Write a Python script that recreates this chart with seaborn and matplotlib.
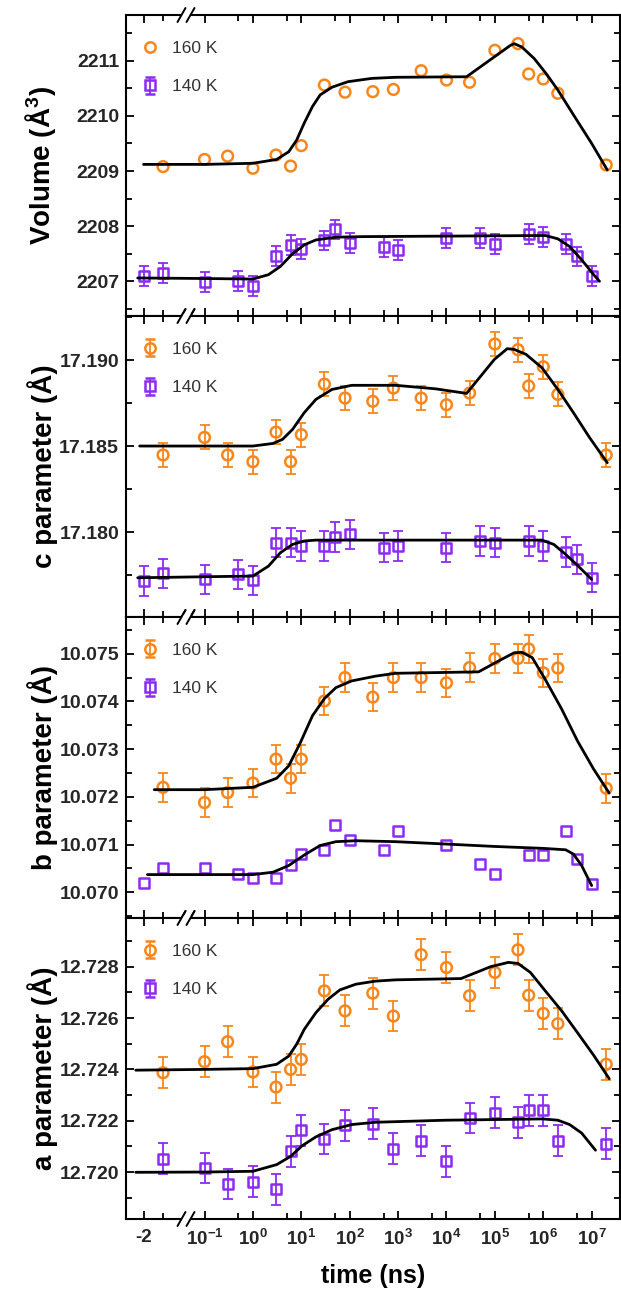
import numpy as np
import matplotlib
matplotlib.use("Agg")
import matplotlib.pyplot as plt
import seaborn as sns
from matplotlib.ticker import FixedLocator, FixedFormatter, MultipleLocator, FormatStrFormatter, NullFormatter

# ---------------- data ----------------
t160 = [-1, 0.1, 0.3, 1, 3, 6, 10, 30, 80, 300, 800, 3000, 1e4, 3e4, 1e5, 3e5, 5e5, 1e6, 2e6, 2e7]
t140 = [-2, -1, 0.1, 0.5, 1, 3, 6, 10, 30, 50, 100, 500, 1000, 1e4, 5e4, 1e5, 5e5, 1e6, 3e6, 5e6, 1e7]

vol160 = [2209.08, 2209.21, 2209.27, 2209.05, 2209.29, 2209.09, 2209.46, 2210.56, 2210.43, 2210.44,
          2210.48, 2210.82, 2210.65, 2210.61, 2211.19, 2211.31, 2210.76, 2210.67, 2210.41, 2209.11]
vol140 = [2207.09, 2207.15, 2206.98, 2207.01, 2206.91, 2207.46, 2207.66, 2207.59, 2207.74, 2207.94,
          2207.69, 2207.62, 2207.57, 2207.78, 2207.78, 2207.68, 2207.86, 2207.81, 2207.68, 2207.45, 2207.10]
c160 = [17.18448, 17.18550, 17.18448, 17.18409, 17.18581, 17.18409, 17.18566, 17.18860, 17.18779, 17.18760,
        17.18837, 17.18779, 17.18740, 17.18808, 17.19093, 17.19060, 17.18849, 17.18961, 17.18800, 17.18448]
c140 = [17.17715, 17.17760, 17.17725, 17.17754, 17.17719, 17.17938, 17.17938, 17.17919, 17.17919, 17.17971,
        17.17986, 17.17909, 17.17919, 17.17909, 17.17948, 17.17938, 17.17948, 17.17919, 17.17884, 17.17841, 17.17734]
b160 = [10.07220, 10.07188, 10.07209, 10.07229, 10.07279, 10.07239, 10.07279, 10.07401, 10.07450, 10.07409,
        10.07450, 10.07450, 10.07439, 10.07471, 10.07490, 10.07490, 10.07510, 10.07460, 10.07470, 10.07218]
b140 = [10.07020, 10.07050, 10.07050, 10.07039, 10.07030, 10.07030, 10.07058, 10.07080, 10.07089, 10.07140,
        10.07110, 10.07089, 10.07129, 10.07099, 10.07059, 10.07039, 10.07078, 10.07078, 10.07129, 10.07070, 10.07018]
a160 = [12.72387, 12.72430, 12.72508, 12.72390, 12.72331, 12.72400, 12.72439, 12.72706, 12.72628, 12.72697,
        12.72608, 12.72847, 12.72797, 12.72687, 12.72778, 12.72866, 12.72689, 12.72618, 12.72578, 12.72420]
a140 = [12.72052, 12.72016, 12.71953, 12.71963, 12.71933, 12.72081, 12.72162, 12.72129, 12.72182, 12.72189,
        12.72091, 12.72122, 12.72042, 12.72211, 12.72231, 12.72194, 12.72240, 12.72240, 12.72122, 12.72111]

vol160_err = None
vol140_err = 0.18
c160_err = 0.0007
c140_err = 0.00085
b160_err = 0.0003
b140_err = None
a160_err = 0.0006
a140_err = 0.0006

# fitted guide curves
vol160_fit_t = [-2, 0.1, 1, 3.1, 5.5, 8, 11.5, 17, 24.5, 43, 92, 285, 890, 2.6e4, 2.1e5, 2.5e5, 3.6e5, 6.5e5,
                1.14e6, 2e6, 4.2e6, 1e7, 2.1e7]
vol160_fit_v = [2209.12, 2209.12, 2209.14, 2209.21, 2209.35, 2209.56, 2209.87, 2210.17, 2210.38, 2210.52, 2210.62,
                2210.68, 2210.70, 2210.71, 2211.28, 2211.31, 2211.25, 2211.04, 2210.77, 2210.47, 2210.02, 2209.50, 2209.02]
vol140_fit_t = [-2.3, 0.1, 1, 2.1, 3.7, 6.6, 11.5, 20, 52, 195, 1.1e6, 2e6, 3.5e6, 6.2e6, 1.1e7, 1.45e7]
vol140_fit_v = [2207.06, 2207.05, 2207.04, 2207.12, 2207.27, 2207.50, 2207.66, 2207.75, 2207.80, 2207.81,
                2207.83, 2207.77, 2207.63, 2207.39, 2207.12, 2207.00]
c160_fit_t = [-2.2, 0.1, 1, 2.6, 4.1, 6.6, 11.5, 20, 43, 110, 890, 5800, 2.6e4, 9.8e4, 1.8e5, 2.5e5, 4.4e5,
              9.4e5, 2e6, 4.2e6, 9.1e6, 2.1e7]
c160_fit_v = [17.18500, 17.18500, 17.18500, 17.18515, 17.18539, 17.18597, 17.18694, 17.18771, 17.18829, 17.18853,
              17.18853, 17.18833, 17.18806, 17.19004, 17.19066, 17.19062, 17.19033, 17.18955, 17.18829, 17.18694,
              17.18548, 17.18403]
c140_fit_t = [-2.3, 0.1, 1, 2.1, 3.7, 6.6, 11.5, 20, 9.4e5, 1.65e6, 2.9e6, 5.1e6, 1e7]
c140_fit_v = [17.17734, 17.17740, 17.17744, 17.17802, 17.17880, 17.17928, 17.17948, 17.17953, 17.17953, 17.17928,
              17.17870, 17.17806, 17.17725]
b160_fit_t = [-1.45, 0.1, 1, 3.1, 5.5, 9.6, 17, 30, 52, 110, 340, 890, 4.6e4, 1.2e5, 2.5e5, 3.6e5, 5.9e5,
              1.1e6, 2.4e6, 5.1e6, 1.1e7, 2.3e7]
b160_fit_v = [10.07215, 10.07215, 10.07220, 10.07239, 10.07265, 10.07314, 10.07370, 10.07406, 10.07429, 10.07443,
              10.07453, 10.07459, 10.07462, 10.07485, 10.07502, 10.07503, 10.07492, 10.07446, 10.07384, 10.07317,
              10.07258, 10.07208]
b140_fit_t = [-1.8, 0.1, 1, 2.6, 5.5, 11.5, 24.5, 52, 134, 890, 9.8e3, 9.8e4, 9.8e5, 2.9e6, 4.2e6, 6.2e6, 1e7]
b140_fit_v = [10.07037, 10.07037, 10.07037, 10.07042, 10.07056, 10.07078, 10.07098, 10.07106, 10.07108, 10.07106,
              10.07101, 10.07096, 10.07092, 10.07089, 10.07080, 10.07056, 10.07014]
a160_fit_t = [-2.4, 0.1, 1, 3.1, 5.5, 8, 11.5, 20, 36, 63, 134, 340, 890, 2e4, 8.1e4, 1.9e5, 3e5, 5.4e5,
              1.1e6, 2.4e6, 5.1e6, 1.1e7, 2.3e7]
a160_fit_v = [12.72397, 12.72400, 12.72403, 12.72420, 12.72452, 12.72498, 12.72556, 12.72621, 12.72674, 12.72710,
              12.72732, 12.72744, 12.72749, 12.72754, 12.72800, 12.72817, 12.72813, 12.72778, 12.72706, 12.72628,
              12.72543, 12.72455, 12.72364]
a140_fit_t = [-2.4, 0.1, 1, 3.1, 6, 10.5, 20, 43, 110, 340, 9.8e3, 9.8e5, 2e6, 3.5e6, 6.2e6, 1.2e7]
a140_fit_v = [12.71999, 12.72000, 12.72003, 12.72029, 12.72061, 12.72103, 12.72137, 12.72165, 12.72185, 12.72194,
              12.72202, 12.72207, 12.72202, 12.72185, 12.72152, 12.72085]

series_labels = ["160 K", "140 K"]
ylabels = ["Volume (Å$^{3}$)", "c parameter (Å)", "b parameter (Å)", "a parameter (Å)"]
x_major = [-2, 0.1, 1, 10, 1e2, 1e3, 1e4, 1e5, 1e6, 1e7]
x_major_labels = ["-2", "$10^{-1}$", "$10^{0}$", "$10^{1}$", "$10^{2}$", "$10^{3}$",
                  "$10^{4}$", "$10^{5}$", "$10^{6}$", "$10^{7}$"]
x_minor = [-1, 0.5, 5, 50, 500, 5e3, 5e4, 5e5, 5e6]

# ---------------- style ----------------
sns.set_theme(style="ticks")
plt.rcParams["font.family"] = ["Liberation Sans", "DejaVu Sans"]
plt.rcParams["mathtext.fontset"] = "custom"
plt.rcParams["mathtext.rm"] = "Liberation Sans:bold"
plt.rcParams["mathtext.it"] = "Liberation Sans:bold"
plt.rcParams["mathtext.bf"] = "Liberation Sans:bold"
plt.rcParams["mathtext.default"] = "rm"

ORANGE = "#F7871C"
PURPLE = "#8C2BF2"

# broken time axis: linear for t<=0, log for t>=0.1
A0, S0 = -0.454, 0.403


def fwd(t):
    t = np.asarray(t, dtype=float)
    lg = np.log10(np.maximum(t, 0.1)) + 1.0
    neg = A0 + S0 * t
    mid = A0 + (-A0 / 0.1) * t
    return np.where(t >= 0.1, lg, np.where(t <= 0, neg, mid))


def inv(p):
    p = np.asarray(p, dtype=float)
    lg = 10.0 ** (np.minimum(p, 20) - 1.0)
    neg = (p - A0) / S0
    mid = (p - A0) / (-A0 / 0.1)
    return np.where(p >= 0, lg, np.where(p <= A0, neg, mid))


panels = [
    dict(d160=vol160, e160=vol160_err, d140=vol140, e140=vol140_err, t140=t140,
         f160=(vol160_fit_t, vol160_fit_v), f140=(vol140_fit_t, vol140_fit_v),
         ylim=(2206.37, 2211.83), step=1.0, fmt="%d"),
    dict(d160=c160, e160=c160_err, d140=c140, e140=c140_err, t140=t140,
         f160=(c160_fit_t, c160_fit_v), f140=(c140_fit_t, c140_fit_v),
         ylim=(17.17506, 17.19256), step=0.005, fmt="%.3f"),
    dict(d160=b160, e160=b160_err, d140=b140, e140=b140_err, t140=t140,
         f160=(b160_fit_t, b160_fit_v), f140=(b140_fit_t, b140_fit_v),
         ylim=(10.06946, 10.07577), step=0.001, fmt="%.3f", legend_err140=True),
    dict(d160=a160, e160=a160_err, d140=a140, e140=a140_err, t140=t160,
         f160=(a160_fit_t, a160_fit_v), f140=(a140_fit_t, a140_fit_v),
         ylim=(12.71817, 12.72990), step=0.002, fmt="%.3f"),
]

W, H = 621, 1292
fig = plt.figure(figsize=(W / 100, H / 100), dpi=100)
axes = fig.subplots(4, 1, sharex=True)
L, R, T, B = 126, 620, 15, 1219
fig.subplots_adjust(left=L / W, right=R / W, top=1 - T / H, bottom=1 - B / H, hspace=0)
axw = R - L
axh = (B - T) / 4.0

for i, (ax, p) in enumerate(zip(axes, panels)):
    ax.set_xscale("function", functions=(fwd, inv))
    ax.set_xlim(-2.9, 3.85e7)
    ax.set_ylim(*p["ylim"])

    ek = dict(fmt="none", elinewidth=1.3, capsize=3.5, capthick=1.3, zorder=2)
    if p["e160"] is not None:
        ax.errorbar(t160, p["d160"], yerr=p["e160"], ecolor=ORANGE, **ek)
    if p["e140"] is not None:
        ax.errorbar(p["t140"], p["d140"], yerr=p["e140"], ecolor=PURPLE, **ek)

    sns.scatterplot(x=t160, y=p["d160"], ax=ax, marker="o", s=60, facecolors="none",
                    edgecolor=ORANGE, linewidth=1.8, zorder=3)
    sns.scatterplot(x=p["t140"], y=p["d140"], ax=ax, marker="s", s=52, facecolors="none",
                    edgecolor=PURPLE, linewidth=1.8, zorder=3)

    sns.lineplot(x=p["f160"][0], y=p["f160"][1], ax=ax, color="black", lw=2.0, sort=False,
                 estimator=None, zorder=4)
    sns.lineplot(x=p["f140"][0], y=p["f140"][1], ax=ax, color="black", lw=2.0, sort=False,
                 estimator=None, zorder=4)

    # legend proxies
    h1 = ax.errorbar([np.nan], [np.nan], yerr=None if p["e160"] is None else [np.nan], fmt="o", ms=7.5,
                     mfc="none", mec=ORANGE, mew=1.8, ecolor=ORANGE, elinewidth=1.3, capsize=3.5, capthick=1.3)
    has140 = (p["e140"] is not None) or p.get("legend_err140", False)
    h2 = ax.errorbar([np.nan], [np.nan], yerr=[np.nan] if has140 else None, fmt="s", ms=7,
                     mfc="none", mec=PURPLE, mew=1.8, ecolor=PURPLE, elinewidth=1.3, capsize=3.5, capthick=1.3)
    ax.legend([h1, h2], series_labels, loc="upper left", bbox_to_anchor=(0.031, 0.915),
              frameon=False, fontsize=12.5, handlelength=1.0, handletextpad=0.75,
              labelspacing=1.35, borderaxespad=0, borderpad=0, labelcolor="#333333")

    # ticks
    ax.xaxis.set_major_locator(FixedLocator(x_major))
    ax.xaxis.set_minor_locator(FixedLocator(x_minor))
    ax.yaxis.set_major_locator(MultipleLocator(p["step"]))
    ax.yaxis.set_minor_locator(MultipleLocator(p["step"] / 2))
    ax.yaxis.set_major_formatter(FormatStrFormatter(p["fmt"]))
    ax.tick_params(axis="both", which="both", direction="in", top=True, right=True,
                   width=1.3, color="black")
    ax.tick_params(axis="both", which="major", length=5.5)
    ax.tick_params(axis="both", which="minor", length=4)
    ax.tick_params(axis="y", which="major", labelsize=14, pad=5)
    for lab in ax.get_yticklabels():
        lab.set_fontweight("bold")
    for sp in ax.spines.values():
        sp.set_linewidth(1.5)
        sp.set_color("black")

    ax.set_ylabel(ylabels[i], fontsize=20, fontweight="bold", color="black")
    ax.yaxis.set_label_coords(-0.138, 0.5)

    # axis-break marks
    xb = (186 - L) / axw
    for yb in (0.0, 1.0):
        ax.plot([xb - 4.5 / axw, xb + 4.5 / axw], [yb, yb], transform=ax.transAxes, color="white",
                lw=3, clip_on=False, zorder=10, solid_capstyle="butt")
        for dx in (-4.5, 4.5):
            ax.plot([xb + (dx - 4) / axw, xb + (dx + 4) / axw], [yb - 7 / axh, yb + 7 / axh],
                    transform=ax.transAxes, color="black", lw=1.4, clip_on=False, zorder=11)

axb = axes[-1]
axb.xaxis.set_major_formatter(FixedFormatter(x_major_labels))
axb.xaxis.set_minor_formatter(NullFormatter())
axb.tick_params(axis="x", which="major", labelsize=13.5, pad=7)
for lab in axb.get_xticklabels():
    lab.set_fontweight("bold")
axb.set_xlabel("time (ns)", fontsize=18, fontweight="bold", color="black", labelpad=11)

fig.savefig("out.png", dpi=100)
